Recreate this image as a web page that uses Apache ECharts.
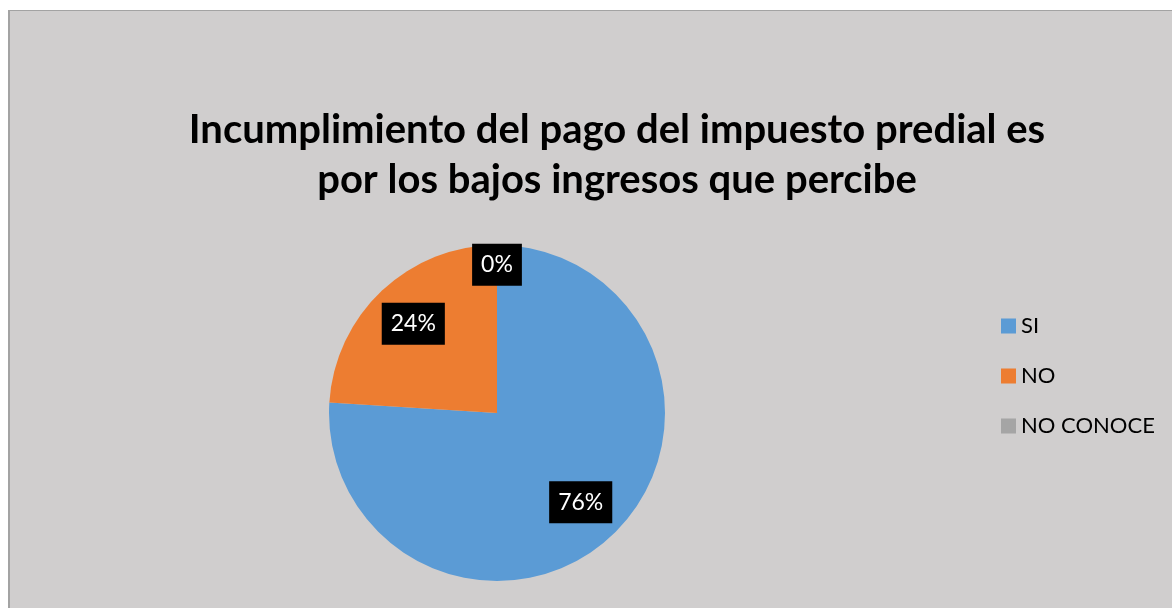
<!DOCTYPE html>
<html>
<head>
<meta charset="utf-8">
<script src="https://cdn.jsdelivr.net/npm/echarts@6/dist/echarts.min.js"></script>
<style>
html,body{margin:0;padding:0;background:#fff;}
#frame{position:absolute;left:8px;top:10px;width:1164px;height:598px;background:#d0cece;border-left:2px solid #a3a3a3;border-top:1px solid #a3a3a3;}
#chart{position:absolute;left:0;top:0;width:1172px;height:608px;}
</style>
</head>
<body>
<div id="frame"></div>
<div id="chart"></div>
<script>
const titleText = 'Incumplimiento del pago del impuesto predial es\npor los bajos ingresos que percibe';
const categories = ['SI', 'NO', 'NO CONOCE'];
const values = [76, 24, 0];
const colors = ['#5b9bd5', '#ed7d31', '#a5a5a5'];

const chart = echarts.init(document.getElementById('chart'), null, {renderer: 'canvas'});
const R = 168;
const data = categories.map((c, i) => ({name: c, value: values[i], itemStyle: {color: colors[i]}}));
const labelData = categories.map((c, i) => {
  const d = {name: c, value: values[i]};
  if (values[i] === 0) d.label = {offset: [0, -26]};
  return d;
});
chart.setOption({
  backgroundColor: 'transparent',
  animation: false,
  title: {
    text: titleText,
    left: 612,
    top: 100,
    textAlign: 'center',
    textStyle: {fontFamily: 'Lato', fontWeight: 'bold', fontSize: 40, lineHeight: 50, color: '#000'}
  },
  legend: {
    orient: 'vertical',
    left: 996,
    top: 310,
    itemWidth: 15,
    itemHeight: 15,
    itemGap: 28,
    icon: 'rect',
    data: categories,
    textStyle: {fontFamily: 'Lato', fontSize: 22, color: '#000'}
  },
  series: [
    {
      type: 'pie',
      center: [497, 413],
      radius: [0, R],
      startAngle: 90,
      clockwise: true,
      label: {show: false},
      labelLine: {show: false},
      emphasis: {disabled: true},
      data: data
    },
    {
      type: 'pie',
      center: [497, 413],
      radius: [R * 0.42, R],
      startAngle: 90,
      clockwise: true,
      silent: true,
      legendHoverLink: false,
      itemStyle: {color: 'rgba(0,0,0,0)'},
      label: {
        show: true,
        position: 'inside',
        formatter: '{d}%',
        color: '#fff',
        backgroundColor: '#000',
        padding: [10, 9, 9, 9],
        fontFamily: 'Lato',
        fontSize: 23
      },
      labelLine: {show: false},
      emphasis: {disabled: true},
      data: labelData
    }
  ]
});
</script>
</body>
</html>
